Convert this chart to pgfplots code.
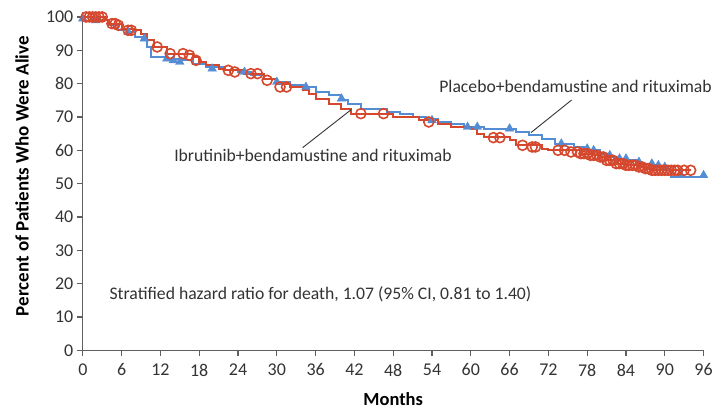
\documentclass[border=0pt]{standalone}
\usepackage{fontspec}
\setmainfont{Carlito}
\usepackage{pgfplots}
\pgfplotsset{compat=1.18}
\definecolor{plblue}{RGB}{84,141,212}
\definecolor{ibred}{RGB}{214,72,46}
\definecolor{axgray}{RGB}{95,95,95}

\begin{document}
\begin{tikzpicture}
\begin{axis}[
  width=622pt, height=339pt, scale only axis,
  xmin=0, xmax=96, ymin=0, ymax=101.5,
  axis x line*=bottom, axis y line*=left,
  axis line style={axgray, line width=1.3pt, -},
  xtick={0,6,...,96}, ytick={0,10,...,100},
  tick align=outside, major tick length=6pt,
  tick style={axgray, line width=1.1pt},
  tick label style={font=\fontsize{18}{18}\selectfont, text=black!80},
  xticklabel style={yshift=-4pt},
  /pgf/number format/assume math mode=true,
  xlabel={\textbf{Months}},
  ylabel={\textbf{Percent of Patients Who Were Alive}},
  xlabel style={font=\fontsize{18.5}{19}\selectfont, at={(axis description cs:0.5,0)}, anchor=center, yshift=-49pt},
  ylabel style={font=\fontsize{19}{19}\selectfont, at={(axis description cs:0,0.515)}, anchor=center, yshift=61pt},
  clip=false,
]
% placebo + BR
\addplot[const plot, plblue, line width=2pt] coordinates {
(0,100)(1.5,99.5)(2.5,99)(4,97.5)(5.5,96)(7,95.5)(8,94)(9.5,93)(10,91)(10.5,88)
(13,87.5)(15,87)(17,86)(19,85)(22,84)(24,83.5)(26,82.5)(28,81.5)(30,80.5)(32,79.5)
(34,79)(36,77.5)(38,76.5)(40,75)(41,74)(43,72.5)(47,71.5)(49,71)(51,70)(53,69.5)
(55,68.5)(57,68)(59,67)(62,66.5)(67,65.5)(69,64.5)(71,63.5)(73,62)(76,61)(77.5,60)
(80,59)(81,58)(83,57)(86,56)(88,55.5)(89,55)(90,54)(91,52)(96,52)};
\addplot[only marks, mark=triangle*, mark size=5pt, plblue] coordinates {
(0,99.5)(2,99)(7,95.5)(9.5,93.5)(13,87.5)(14,87)(15,86.5)(20,84.5)(25,83.5)(30,80.5)
(34.5,79)(40,75.5)(54,69)(59.5,67)(61,67)(66,66.5)(74,62)(78,60.5)(79,60)(81.5,58.5)
(83,57.5)(84,57.5)(86,56.5)(88,56)(89,55.5)(90,55)(92.5,52.5)(96,52.5)};
% ibrutinib + BR
\addplot[const plot, ibred, line width=2pt] coordinates {
(0,100)(3.5,99)(4,98)(6,96.5)(8,96)(9,95)(10,93)(11,91)(13,89)(17,88)(18,86.5)
(19,85.5)(21,84.5)(22,84)(25,83)(28,81.5)(30,80)(32,79)(34,78)(35,77)(36,75.5)
(38,74)(40,72.5)(41.5,71)(48,70)(52,69)(55,68)(57,67)(60,66.5)(61,65)(62,64)
(66,63)(67,61.5)(71,60.5)(72,60)(77,59)(79,58.5)(80,58)(81,57)(82.5,56)(84,55.5)
(86,55)(87,54.5)(88,54)(94,54)};
\addplot[only marks, mark=o, mark size=5pt, ibred, mark options={line width=1.6pt}] coordinates {
(0.5,100)(1,100)(1.5,100)(2,100)(2.5,100)(3,100)(4.5,98)(5,98)(5.5,97.5)(7,96)
(7.5,96)(11.5,91)(13.5,89)(15.5,89)(16.5,88.5)(17.5,87)(22.5,84)(23.5,83.5)(26,83)
(27,83)(28.5,81)(30.5,79)(31.5,79)(43,71)(46.5,71)(53.5,68.5)(63.5,63.8)(64.5,63.8)
(68,61.5)(69.5,61)(70,61)(73.5,60)(74.5,60)(75.5,59.5)(76.5,59.5)(77,59)(77.5,59)
(78,59)(78.5,58.5)(79,58.5)(79.5,58.5)(80,58)(80.5,58)(81,57)(81.5,57)(82,57)
(82.5,56)(83,56)(83.5,56)(84,55.5)(84.5,55.5)(85,55.5)(85.5,55.5)(86,55)(86.5,55)
(87,54.5)(87.5,54.5)(88,54)(88.5,54)(89,54)(89.5,54)(90,54)(90.5,54)(91,54)
(91.5,54)(92,54)(93,54)(94,54)};
% annotations
\draw[black!80, line width=0.9pt] (axis cs:75.6,75.1) -- (axis cs:69.3,65.3);
\draw[black!80, line width=0.9pt] (axis cs:34,60.8) -- (axis cs:41.5,72.2);
\node[font=\fontsize{17.7}{18}\selectfont, text=black!80] at (axis cs:76.2,79.3) {Placebo+bendamustine and rituximab};
\node[font=\fontsize{17.7}{18}\selectfont, text=black!80] at (axis cs:35.6,58.4) {Ibrutinib+bendamustine and rituximab};
\node[font=\fontsize{17.7}{18}\selectfont, text=black!80, anchor=west] at (axis cs:3.6,16.8) {Stratified hazard ratio for death, 1.07 (95\% CI, 0.81 to 1.40)};
\end{axis}
\path (-83pt,-59pt) rectangle (633pt,351pt);
\end{tikzpicture}
\end{document}
